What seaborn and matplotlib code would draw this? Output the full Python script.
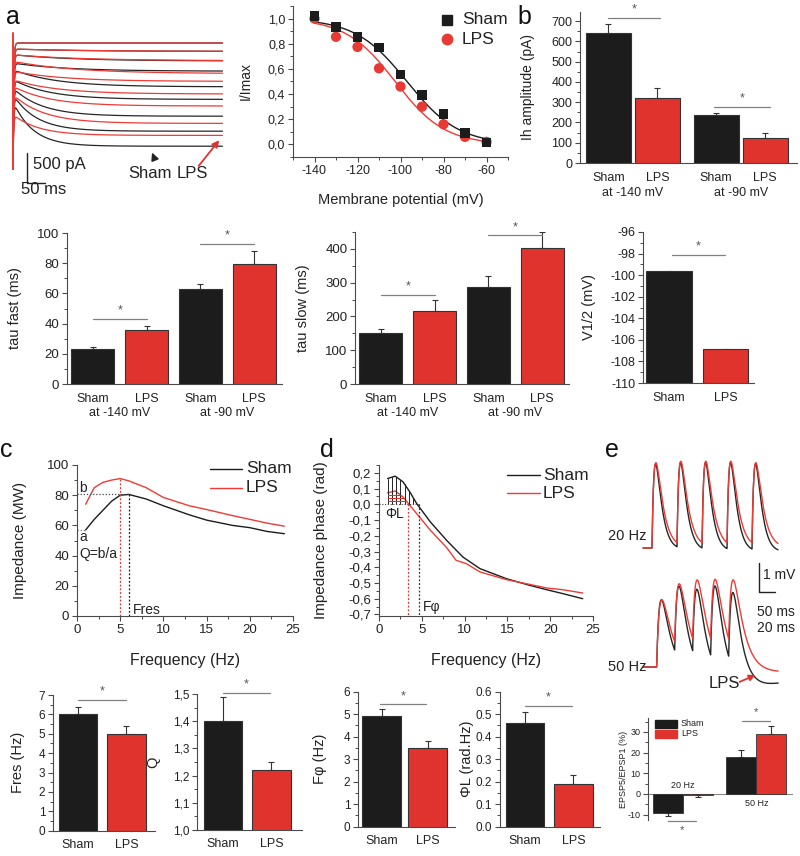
import numpy as np
import matplotlib
matplotlib.use("Agg")
import matplotlib.pyplot as plt
from matplotlib.lines import Line2D
from matplotlib.patches import Rectangle, FancyArrowPatch
from matplotlib.ticker import MultipleLocator, FuncFormatter
import seaborn as sns

# ---------------------------------------------------------------- data
# a : Ih current traces (pA), one per voltage step (-60 ... -140 mV)
sham_i_start = [0, -100, -195, -335, -445, -610, -750, -860, -970]
sham_i_steady = [0, -140, -300, -470, -730, -940, -1220, -1470, -1720]
sham_tau = [200, 190, 170, 150, 120, 100, 80, 65, 55]
lps_i_start = [0, -100, -195, -305, -470, -610, -720, -860, -1190]
lps_i_steady = [0, -140, -295, -510, -640, -850, -1050, -1340, -1540]
lps_tau = [220, 210, 190, 170, 140, 120, 100, 85, 70]
transient_pa = [170, -2100]

# a : activation curve
vm = [-140, -130, -120, -110, -100, -90, -80, -70, -60]
sham_inorm = [1.02, 0.93, 0.855, 0.77, 0.555, 0.39, 0.24, 0.09, 0.015]
lps_inorm = [1.0, 0.855, 0.775, 0.605, 0.46, 0.30, 0.16, 0.06, 0.02]
fit_vhalf = {"Sham": -97.0, "LPS": -102.5}
fit_slope = {"Sham": 12.0, "LPS": 11.5}

# b
ih_amp = [640, 320, 238, 125]
ih_err = [45, 50, 11, 23]
tau_fast = [23, 35.5, 63, 79.5]
tau_fast_err = [1.5, 2.7, 3.3, 8.8]
tau_slow = [150, 216, 287, 404]
tau_slow_err = [13, 33, 33, 45]
v_half = [-99.6, -106.85]
v_half_err = [1.0, 2.15]

# c : impedance
freq_c = [1, 2, 3, 4, 5, 6, 8, 10, 13, 15, 18, 20, 22, 24]
imp_sham = [57, 64, 70, 76, 80, 80.5, 77.5, 73, 67, 63.5, 60, 58.5, 56, 54.5]
imp_lps = [74, 85, 88.5, 90, 91, 89.5, 85, 78.5, 73, 70.5, 66.5, 64, 61.5, 59.5]

# d : impedance phase
freq_d_sham = [1, 1.9, 2.8, 3.6, 4.4, 6, 7.9, 9.8, 11.8, 14.9, 17.6, 19.6, 21.5, 23.8]
phase_sham = [0.164, 0.179, 0.143, 0.079, 0.005, -0.112, -0.229, -0.335, -0.409,
              -0.473, -0.515, -0.543, -0.568, -0.6]
freq_d_lps = [1, 1.9, 2.8, 3.6, 4.4, 6, 7.9, 9.0, 10.2, 11.8, 14.9, 17.6, 19.6, 21.5, 23.8]
phase_lps = [0.073, 0.085, 0.047, -0.006, -0.059, -0.165, -0.275, -0.356, -0.377,
             -0.43, -0.479, -0.509, -0.532, -0.543, -0.564]
fphi_example = {"Sham": 4.7, "LPS": 3.4}

# bottom bars
fres = [6.0, 5.0]
fres_err = [0.4, 0.4]
q_val = [1.40, 1.22]
q_err = [0.09, 0.03]
fphi = [4.9, 3.5]
fphi_err = [0.33, 0.31]
phil = [0.46, 0.19]
phil_err = [0.05, 0.04]

# e : EPSP trains (peak voltages, mV)
stim_20 = [0, 50, 100, 150, 200]
stim_50 = [0, 20, 40, 60, 80]
peaks_20_sham = [3.0, 3.05, 3.05, 3.05, 3.0]
peaks_20_lps = [3.05, 3.1, 3.1, 3.1, 3.05]
peaks_50_sham = [2.4, 2.87, 2.75, 2.87, 2.63]
peaks_50_lps = [2.4, 2.95, 3.08, 3.1, 3.08]
epsp_ratio_sham = [-9.0, 18.0]
epsp_ratio_sham_err = [1.5, 3.0]
epsp_ratio_lps = [-0.5, 29.0]
epsp_ratio_lps_err = [1.0, 3.9]

# ---------------------------------------------------------------- style
sns.set_style("ticks")
plt.rcParams["font.family"] = ["Liberation Sans", "DejaVu Sans"]
plt.rcParams["axes.linewidth"] = 0.8
plt.rcParams["axes.unicode_minus"] = False

BLACK = "#1c1c1c"
RED = "#e0332e"
LRED = "#ee3b36"
EDGE = "#333333"
AXC = "#4a4a4a"
SIG = "#808080"

W, H = 800, 856
fig = plt.figure(figsize=(8, 8.56), dpi=100)


def add_ax(l, t, r, b):
    return fig.add_axes([l / W, 1 - b / H, (r - l) / W, (b - t) / H])


def fp(x, y):
    return (x / W, 1 - y / H)


def ftext(x, y, s, **kw):
    kw.setdefault("ha", "left")
    kw.setdefault("va", "center")
    fig.text(x / W, 1 - y / H, s, **kw)


def style(ax, fs=9, xticks=True):
    sns.despine(ax=ax)
    for sp in ("left", "bottom"):
        ax.spines[sp].set_color(AXC)
        ax.spines[sp].set_linewidth(0.8)
    ax.tick_params(axis="both", which="major", direction="out", length=3.5,
                   width=0.8, color=AXC, labelsize=fs, pad=2, labelcolor="#222")
    ax.tick_params(axis="both", which="minor", direction="out", length=2,
                   width=0.7, color=AXC)
    if not xticks:
        ax.tick_params(axis="x", which="both", length=0)
        ax.set_xticks([])


def ylab(ax, text, x_px, l, r, fs=10):
    ax.set_ylabel(text, fontsize=fs, color="#222")
    ax.yaxis.set_label_coords((x_px - l) / (r - l), 0.5)


def comma(dec):
    return FuncFormatter(lambda v, p: f"{v:.{dec}f}".replace(".", ",").replace("-0,0", "0,0"))


def upper_err(ax, pos, vals, errs, cap=2.5):
    lo = [e if v < 0 else 0 for v, e in zip(vals, errs)]
    hi = [e if v >= 0 else 0 for v, e in zip(vals, errs)]
    ax.errorbar(pos, vals, yerr=[lo, hi], fmt="none", ecolor=EDGE, elinewidth=0.8,
                capsize=cap, capthick=0.8, zorder=1)


def sig(ax, x1, x2, y, below=False, fs=9):
    ax.plot([x1, x2], [y, y], color=SIG, lw=0.9, clip_on=False)
    off = -7 if below else 6
    ax.annotate("*", xy=((x1 + x2) / 2, y), xytext=(0, off), textcoords="offset points",
                ha="center", va="center", fontsize=fs, color="#555",
                annotation_clip=False)


def xlabels(ax, pos, labels, dy_pt=10.8, fs=9):
    for p, s in zip(pos, labels):
        ax.annotate(s, xy=(p, 0), xycoords=("data", "axes fraction"),
                    xytext=(0, -dy_pt), textcoords="offset points",
                    ha="center", va="center", fontsize=fs, color="#222")


def cat_bars(ax, vals, width, names):
    pal = {n: (BLACK if i % 2 == 0 else RED) for i, n in enumerate(names)}
    sns.barplot(x=names, y=vals, hue=names, palette=pal, width=width,
                edgecolor=EDGE, linewidth=0.8, saturation=1, legend=False,
                errorbar=None, ax=ax, zorder=3)
    ax.set_xlabel("")


LETTER_FS = 18
for s, x, y in [("a", 13, 17), ("b", 524, 17), ("c", 6, 450), ("d", 327, 450), ("e", 612, 450)]:
    ftext(x, y, s, fontsize=LETTER_FS, ha="center", color="#111")

# ---------------------------------------------------------------- a: traces
axa = add_ax(8, 28, 228, 200)
axa.axis("off")
ms_per_px = 50 / 18
axa.set_xlim(-5 * ms_per_px, 215 * ms_per_px)
axa.set_ylim(-(200 - 43) * 500 / 30, (43 - 28) * 500 / 30)
t = np.linspace(0, 582, 2500)
for i0s, isss, taus, col in [(sham_i_start, sham_i_steady, sham_tau, "#262626"),
                             (lps_i_start, lps_i_steady, lps_tau, LRED)]:
    for i0, iss, tau in zip(i0s, isss, taus):
        cur = iss + (i0 - iss) * np.exp(-t / tau) + (transient_pa[1] - i0) * np.exp(-t / 1.8)
        axa.plot(t, cur, color=col, lw=0.9)
axa.plot([0, 0], transient_pa, color=LRED, lw=1.4)
# scale bar 50 ms / 500 pA
sb_t, sb_i = 39, -1833
axa.plot([sb_t, sb_t, sb_t + 50], [sb_i, sb_i - 500, sb_i - 500], color="#222", lw=1.0,
         clip_on=False)
ftext(33, 164, "500 pA", fontsize=12, color="#222")
ftext(21, 190, "50 ms", fontsize=12, color="#222")
ftext(128, 174, "Sham", fontsize=12, color="#222")
ftext(177, 174, "LPS", fontsize=12, color="#222")
fig.add_artist(FancyArrowPatch(fp(155, 160), fp(151, 150), transform=fig.transFigure,
                               arrowstyle="-|>", mutation_scale=11, color="#222", lw=1.2))
fig.add_artist(FancyArrowPatch(fp(197, 168), fp(221, 138), transform=fig.transFigure,
                               arrowstyle="-|>", mutation_scale=10, color=RED, lw=1.3))

# ---------------------------------------------------------------- a: I/Imax
L, T, R, B = 293, 6, 508, 157
axi = add_ax(L, T, R, B)
vfit = np.linspace(-140, -60, 200)
for grp, col in [("Sham", BLACK), ("LPS", LRED)]:
    fit = 1 / (1 + np.exp((vfit - fit_vhalf[grp]) / fit_slope[grp]))
    sns.lineplot(x=vfit, y=fit, color=col, lw=1.0, ax=axi, legend=False)
sns.scatterplot(x=vm, y=lps_inorm, color="#e83a35", marker="o", s=55, edgecolor="none",
                ax=axi, zorder=4, legend=False)
sns.scatterplot(x=vm, y=sham_inorm, color=BLACK, marker="s", s=50, edgecolor="none",
                ax=axi, zorder=5, legend=False)
axi.set_xlim(-150, -50)
axi.set_ylim(-0.1, 1.1)
style(axi, fs=9)
axi.xaxis.set_minor_locator(MultipleLocator(10))
axi.set_xticks(np.arange(-140, -59, 20))
axi.yaxis.set_minor_locator(MultipleLocator(0.1))
axi.set_yticks(np.round(np.arange(0, 1.01, 0.2), 1))
axi.yaxis.set_major_formatter(comma(1))
ylab(axi, "I/Imax", 253, L, R, fs=10)
axi.set_xlabel("Membrane potential (mV)", fontsize=10.5, color="#222")
axi.xaxis.set_label_coords(0.5, -(193 - B) / (B - T))
fig.add_artist(Line2D([fp(447, 0)[0]], [fp(0, 20)[1]], marker="s", ms=7, color=BLACK,
                      transform=fig.transFigure))
fig.add_artist(Line2D([fp(447, 0)[0]], [fp(0, 39)[1]], marker="o", ms=7.5, color="#e83a35",
                      transform=fig.transFigure))
ftext(462, 20, "Sham", fontsize=12.5, color="#222")
ftext(462, 39, "LPS", fontsize=12.5, color="#222")

# ---------------------------------------------------------------- b: Ih amplitude
L, T, R, B = 580, 12, 797, 163
axb = add_ax(L, T, R, B)
pos_b = [0, 1, 2.2, 3.2]
axb.bar(pos_b, ih_amp, width=0.92, color=[BLACK, RED, BLACK, RED], edgecolor=EDGE,
        linewidth=0.8, zorder=3)
upper_err(axb, pos_b, ih_amp, ih_err)
axb.set_xlim(-0.58, 3.85)
axb.set_ylim(0, 745)
style(axb, fs=9, xticks=False)
axb.yaxis.set_major_locator(MultipleLocator(100))
axb.yaxis.set_minor_locator(MultipleLocator(50))
ylab(axb, "Ih amplitude (pA)", 535, L, R, fs=10)
xlabels(axb, pos_b, ["Sham", "LPS", "Sham", "LPS"])
xlabels(axb, [0.5, 2.7], ["at -140 mV", "at -90 mV"], dy_pt=21.5)
sig(axb, 0, 1.05, 715)
sig(axb, 2.15, 3.3, 277)

# ---------------------------------------------------------------- tau fast
names4 = ["s1", "l1", "s2", "l2"]
L, T, R, B = 67, 233, 282, 384
axf = add_ax(L, T, R, B)
cat_bars(axf, tau_fast, 0.8, names4)
upper_err(axf, range(4), tau_fast, tau_fast_err)
axf.set_xlim(-0.48, 3.52)
axf.set_ylim(0, 100)
style(axf, fs=9.5, xticks=False)
axf.yaxis.set_major_locator(MultipleLocator(20))
axf.yaxis.set_minor_locator(MultipleLocator(10))
ylab(axf, "tau fast (ms)", 22, L, R, fs=10.5)
xlabels(axf, range(4), ["Sham", "LPS", "Sham", "LPS"])
xlabels(axf, [0.5, 2.5], ["at -140 mV", "at -90 mV"], dy_pt=21)
sig(axf, 0, 1.0, 43)
sig(axf, 2.0, 3.0, 92.8)

# ---------------------------------------------------------------- tau slow
L, T, R, B = 355, 232, 569, 384
axs = add_ax(L, T, R, B)
cat_bars(axs, tau_slow, 0.8, names4)
upper_err(axs, range(4), tau_slow, tau_slow_err)
axs.set_xlim(-0.48, 3.5)
axs.set_ylim(0, 450)
style(axs, fs=9.5, xticks=False)
axs.yaxis.set_major_locator(MultipleLocator(100))
axs.yaxis.set_minor_locator(MultipleLocator(50))
ylab(axs, "tau slow (ms)", 310, L, R, fs=10.5)
xlabels(axs, range(4), ["Sham", "LPS", "Sham", "LPS"])
xlabels(axs, [0.5, 2.5], ["at -140 mV", "at -90 mV"], dy_pt=21)
sig(axs, 0, 1.0, 264)
sig(axs, 2.0, 3.0, 440)

# ---------------------------------------------------------------- V1/2
L, T, R, B = 643, 232, 754, 383
axv = add_ax(L, T, R, B)
vb = -110
axv.bar([0, 1], [v - vb for v in v_half], bottom=vb, width=0.8, color=[BLACK, RED],
        edgecolor=EDGE, linewidth=0.8, zorder=3)
upper_err(axv, [0, 1], v_half, v_half_err)
axv.set_xlim(-0.46, 1.5)
axv.set_ylim(-110, -96)
style(axv, fs=9, xticks=False)
axv.yaxis.set_major_locator(MultipleLocator(2))
axv.yaxis.set_minor_locator(MultipleLocator(1))
ylab(axv, "V1/2 (mV)", 596, L, R, fs=10.5)
xlabels(axv, [0, 1], ["Sham", "LPS"])
sig(axv, 0.05, 0.99, -98.1)

# ---------------------------------------------------------------- c: impedance
L, T, R, B = 77, 465, 293, 616
axc = add_ax(L, T, R, B)
sns.lineplot(x=freq_c, y=imp_sham, color=BLACK, lw=1.0, ax=axc, legend=False)
sns.lineplot(x=freq_c, y=imp_lps, color=LRED, lw=1.0, ax=axc, legend=False)
i_s, i_l = int(np.argmax(imp_sham)), int(np.argmax(imp_lps))
axc.plot([freq_c[i_s]] * 2, [0, imp_sham[i_s]], ls=(0, (1.5, 1.5)), color=BLACK, lw=0.9)
axc.plot([freq_c[i_l]] * 2, [0, imp_lps[i_l]], ls=(0, (1.5, 1.5)), color=RED, lw=0.9)
axc.plot([0, freq_c[i_s]], [imp_sham[i_s]] * 2, ls=(0, (1, 1.5)), color="#444", lw=0.9)
axc.plot([0, freq_c[0]], [imp_sham[0]] * 2, ls=(0, (1, 1.5)), color="#777", lw=0.9)
axc.text(0.3, 85, "b", fontsize=10, va="center", color="#222")
axc.text(0.3, 52, "a", fontsize=10, va="center", color="#222")
axc.text(0.3, 41, "Q=b/a", fontsize=10, va="center", color="#222")
axc.text(6.5, 4, "Fres", fontsize=10, va="center", color="#222")
axc.set_xlim(0, 25)
axc.set_ylim(0, 100)
style(axc, fs=9.5)
axc.xaxis.set_major_locator(MultipleLocator(5))
axc.xaxis.set_minor_locator(MultipleLocator(2.5))
axc.yaxis.set_major_locator(MultipleLocator(20))
axc.yaxis.set_minor_locator(MultipleLocator(10))
ylab(axc, "Impedance (MW)", 27, L, R, fs=11)
axc.set_xlabel("Frequency (Hz)", fontsize=11.5, color="#222")
axc.xaxis.set_label_coords(0.5, -(653 - B) / (B - T))
for y, col, lab in [(469, BLACK, "Sham"), (488, LRED, "LPS")]:
    fig.add_artist(Line2D([210 / W, 242 / W], [1 - y / H] * 2, color=col, lw=1.0,
                          transform=fig.transFigure))
    ftext(246, y, lab, fontsize=12.5, color="#222")

# ---------------------------------------------------------------- d: phase
L, T, R, B = 379, 465, 593, 616
axd = add_ax(L, T, R, B)
sns.lineplot(x=freq_d_sham, y=phase_sham, color=BLACK, lw=1.0, ax=axd, legend=False)
sns.lineplot(x=freq_d_lps, y=phase_lps, color=LRED, lw=1.0, ax=axd, legend=False)
for f in [1, 1.5, 2, 2.5, 3, 3.5, 4]:
    axd.plot([f, f], [0, np.interp(f, freq_d_sham, phase_sham)], color="#222", lw=0.7)
lps_desc_f = freq_d_lps[1:5]
lps_desc_v = phase_lps[1:5]
for v in [0.02, 0.04, 0.06]:
    fx = np.interp(v, lps_desc_v[::-1], lps_desc_f[::-1])
    axd.plot([1, fx], [v, v], color=RED, lw=0.8)
axd.plot([0, fphi_example["Sham"]], [0, 0], ls=(0, (1, 1.5)), color="#444", lw=0.8)
axd.plot([fphi_example["Sham"]] * 2, [-0.75, 0], ls=(0, (1.5, 1.5)), color="#333", lw=0.9)
axd.plot([fphi_example["LPS"]] * 2, [-0.75, 0], ls=(0, (1.5, 1.5)), color=RED, lw=0.9)
axd.text(1.8, -0.06, "ΦL", fontsize=10, ha="center", va="center", color="#222")
axd.text(5.1, -0.65, "Fφ", fontsize=10, ha="left", va="center", color="#222")
axd.set_xlim(0, 25)
axd.set_ylim(-0.71, 0.25)
style(axd, fs=9.5)
axd.xaxis.set_major_locator(MultipleLocator(5))
axd.xaxis.set_minor_locator(MultipleLocator(2.5))
axd.set_yticks(np.round(np.arange(-0.7, 0.21, 0.1), 1))
axd.yaxis.set_minor_locator(MultipleLocator(0.05))
axd.yaxis.set_major_formatter(comma(1))
ylab(axd, "Impedance phase (rad)", 328, L, R, fs=11)
axd.set_xlabel("Frequency (Hz)", fontsize=11.5, color="#222")
axd.xaxis.set_label_coords(0.5, -(653 - B) / (B - T))
for y, col, lab in [(475, BLACK, "Sham"), (493, LRED, "LPS")]:
    fig.add_artist(Line2D([507 / W, 540 / W], [1 - y / H] * 2, color=col, lw=1.0,
                          transform=fig.transFigure))
    ftext(543, y, lab, fontsize=12.5, color="#222")


# ---------------------------------------------------------------- e: traces
def epsp_train(tt, stims, peaks, tr, td, ahp):
    v = np.zeros_like(tt)
    for s in stims:
        ts = tt - s
        v -= ahp * np.where(ts > 0, np.exp(-ts / 100.0) - np.exp(-ts / 15.0), 0.0)
    tpk = tr * td / (td - tr) * np.log(td / tr)
    norm = np.exp(-tpk / td) - np.exp(-tpk / tr)
    for s, p in zip(stims, peaks):
        ts = tt - s
        k = np.where(ts > 0, (np.exp(-ts / td) - np.exp(-ts / tr)) / norm, 0.0)
        cur = np.interp(s + tpk, tt, v)
        v = v + (p - cur) * k
    return v


ax20 = add_ax(640, 455, 780, 560)
ax20.axis("off")
ax20.set_xlim(-24, 256)
ax20.set_ylim(-(560 - 548) / 28, (548 - 455) / 28)
t20 = np.linspace(-18, 252, 2500)
ax20.plot(t20, epsp_train(t20, stim_20, peaks_20_sham, 5.0, 11.0, 0.12), color="#262626", lw=1.0)
ax20.plot(t20, epsp_train(t20, stim_20, peaks_20_lps, 5.0, 13.0, 0.0), color=LRED, lw=1.0)

ax50 = add_ax(640, 570, 780, 700)
ax50.axis("off")
ax50.set_xlim(-18.5, -18.5 + 140 / 0.9)
ax50.set_ylim(-(700 - 667) / 28, (667 - 570) / 28)
t50 = np.linspace(-15, 135, 2500)
ax50.plot(t50, epsp_train(t50, stim_50, peaks_50_sham, 3.5, 9.0, 0.3), color="#262626", lw=1.0)
ax50.plot(t50, epsp_train(t50, stim_50, peaks_50_lps, 3.5, 11.0, 0.1), color=LRED, lw=1.0)

ftext(647, 536, "20 Hz", fontsize=10.5, ha="right", color="#222")
ftext(647, 667, "50 Hz", fontsize=10.5, ha="right", color="#222")
fig.add_artist(Line2D([759 / W, 759 / W, 775 / W], [1 - 563 / H, 1 - 592 / H, 1 - 592 / H],
                      color="#222", lw=1.0, transform=fig.transFigure))
ftext(763, 575, "1 mV", fontsize=10, color="#222")
ftext(757, 612, "50 ms", fontsize=10, color="#222")
ftext(757, 628, "20 ms", fontsize=10, color="#222")
ftext(724, 683, "LPS", fontsize=12, ha="center", color="#222")
fig.add_artist(FancyArrowPatch(fp(737, 683), fp(758, 674), transform=fig.transFigure,
                               arrowstyle="-|>", mutation_scale=9, color=RED, lw=1.3))

# ---------------------------------------------------------------- e: ratio bars
L, T, R, B = 648, 718, 793, 820
axe = add_ax(L, T, R, B)
pos_es, pos_el = [0, 2.45], [1, 3.45]
axe.bar(pos_es, epsp_ratio_sham, width=1.0, color=BLACK, edgecolor=EDGE, linewidth=0.6, zorder=3)
axe.bar(pos_el, epsp_ratio_lps, width=1.0, color=RED, edgecolor=EDGE, linewidth=0.6, zorder=3)
upper_err(axe, pos_es, epsp_ratio_sham, epsp_ratio_sham_err, cap=2)
upper_err(axe, pos_el, epsp_ratio_lps, epsp_ratio_lps_err, cap=2)
axe.axhline(0, color="#888", lw=0.8, zorder=2)
axe.set_xlim(-0.67, 4.17)
axe.set_ylim(-12.6, 36.7)
style(axe, fs=6.5, xticks=False)
axe.spines["bottom"].set_visible(False)
axe.yaxis.set_minor_locator(MultipleLocator(5))
axe.set_yticks([-10, 0, 10, 20, 30])
ylab(axe, "EPSP5/EPSP1 (%)", 628, L, R, fs=6.5)
axe.text(0.5, 4, "20 Hz", fontsize=6.5, ha="center", va="center", color="#222")
axe.text(2.95, -4.5, "50 Hz", fontsize=6.5, ha="center", va="center", color="#222")
sig(axe, 2.46, 3.4, 35.3, fs=8)
sig(axe, 0, 0.93, -13, below=True, fs=8)
for y, col, lab in [(724, BLACK, "Sham"), (734, RED, "LPS")]:
    fig.add_artist(Rectangle(fp(655, y + 4), 22 / W, 8 / H, color=col,
                             transform=fig.transFigure))
    ftext(681, y, lab, fontsize=6.5, color="#222")

# ---------------------------------------------------------------- bottom bars
pairs = ["Sham", "LPS"]


def bottom_bar(l, t, r, b, vals, errs, width, xlim, ylim, major, minor, label, lab_x,
               sig_args, fmt=None):
    ax = add_ax(l, t, r, b)
    cat_bars(ax, vals, width, pairs)
    upper_err(ax, [0, 1], vals, errs)
    ax.set_xlim(*xlim)
    ax.set_ylim(*ylim)
    style(ax, fs=8.5, xticks=False)
    ax.yaxis.set_major_locator(MultipleLocator(major))
    ax.yaxis.set_minor_locator(MultipleLocator(minor))
    if fmt is not None:
        ax.yaxis.set_major_formatter(fmt)
    ylab(ax, label, lab_x, l, r, fs=10.5)
    xlabels(ax, [0, 1], pairs, dy_pt=10, fs=9)
    sig(ax, *sig_args)
    return ax


bottom_bar(53, 695, 155, 830.7, fres, fres_err, 0.79, (-0.515, 1.59), (0, 7), 1, 0.5,
           "Fres (Hz)", 25, (0, 0.99, 6.73))
bottom_bar(197, 694, 302, 830, q_val, q_err, 0.79, (-0.536, 1.63), (1.0, 1.5), 0.1, 0.05,
           "Q", 160, (0, 0.97, 1.503), fmt=comma(1))
bottom_bar(358, 691.7, 455, 826.7, fphi, fphi_err, 0.85, (-0.52, 1.59), (0, 6), 1, 0.5,
           "Fφ (Hz)", 327, (-0.04, 0.96, 5.44))
bottom_bar(500, 691.7, 600, 826.7, phil, phil_err, 0.8, (-0.515, 1.55), (0, 0.6), 0.1, 0.05,
           "ΦL (rad.Hz)", 474, (0, 0.98, 0.536),
           fmt=FuncFormatter(lambda v, p: f"{v:.1f}"))

fig.savefig("out.png", dpi=100)
